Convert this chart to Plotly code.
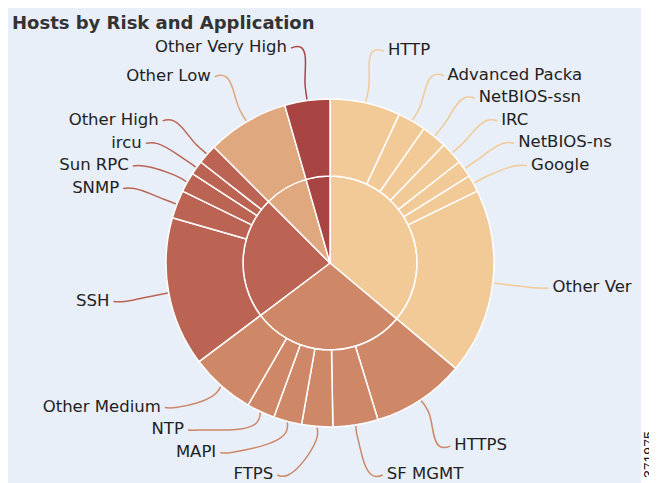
import math
import plotly.graph_objects as go

# --- data (host counts per application) ---
risk_levels = ["Very Low", "Medium", "High", "Low", "Very High"]
risk_colors = ["#f2ca98", "#ce8868", "#bb6453", "#dfa87e", "#a84442"]

app_names = ["HTTP", "Advanced Packa", "NetBIOS-ssn", "IRC", "NetBIOS-ns", "Google", "Other Ver",
             "HTTPS", "SF MGMT", "FTPS", "MAPI", "NTP", "Other Medium",
             "SSH", "SNMP", "Sun RPC", "ircu", "Other High",
             "Other Low",
             "Other Very High"]
app_risk = ["Very Low"] * 7 + ["Medium"] * 6 + ["High"] * 5 + ["Low"] + ["Very High"]
app_hosts = [25, 10, 9, 8, 6, 6, 66,
             33, 16, 11, 10, 10, 23,
             53, 10, 7, 5, 7,
             29,
             16]

risk_hosts = [sum(v for v, r in zip(app_hosts, app_risk) if r == lvl) for lvl in risk_levels]
color_of = dict(zip(risk_levels, risk_colors))
app_colors = [color_of[r] for r in app_risk]

# --- geometry (page pixels; the page body has an 8px margin) ---
PAGE_W, PAGE_H, OFF = 657, 483, 8
W, H = PAGE_W - OFF, PAGE_H - OFF
CX, CY, R, R_IN = 330, 263, 164, 87
LABEL_R, LABEL_XR, TEXT_PAD = 222, 218, 6
GAP, TOP, BOTTOM = 22.5, 48, 475


def domain(r):
    return dict(x=[(CX - OFF - r) / W, (CX - OFF + r) / W],
                y=[(PAGE_H - CY - r) / H, (PAGE_H - CY + r) / H])


total = sum(app_hosts)
mids = []
acc = 0
for v in app_hosts:
    mids.append((acc + v / 2) / total * 2 * math.pi)
    acc += v

natural = [CY - LABEL_R * math.cos(a) + (5 if math.cos(a) > 0 else -2) for a in mids]


def spread(idx):
    idx = sorted(idx, key=lambda i: natural[i])
    ys = [natural[i] for i in idx]
    for k in range(len(ys)):
        lo = TOP if k == 0 else ys[k - 1] + GAP
        ys[k] = max(ys[k], lo)
    for k in range(len(ys) - 1, -1, -1):
        hi = BOTTOM if k == len(ys) - 1 else ys[k + 1] - GAP
        ys[k] = min(ys[k], hi)
    return dict(zip(idx, ys))


right = [i for i, a in enumerate(mids) if a < math.pi]
left = [i for i, a in enumerate(mids) if a >= math.pi]
label_y = {**spread(right), **spread(left)}

fig = go.Figure()

# connectors + labels
for idx, sign, pos in [(right, 1, "middle right"), (left, -1, "middle left")]:
    xs, ys, texts = [], [], []
    for i in idx:
        a = mids[i]
        ly = label_y[i]
        lx = CX + sign * (math.sqrt(max(LABEL_XR ** 2 - (ly - CY) ** 2, 0)) + TEXT_PAD)
        px = [CX + (R + 1) * math.sin(a), CX + (R + 14) * math.sin(a), lx - sign * 15, lx - sign * 4]
        py = [CY - (R + 1) * math.cos(a), CY - (R + 14) * math.cos(a), ly, ly]
        fig.add_trace(go.Scatter(x=px, y=py, mode="lines",
                                 line=dict(color=app_colors[i], width=1.5, shape="spline", smoothing=1.3),
                                 hoverinfo="skip", showlegend=False))
        xs.append(lx)
        ys.append(ly)
        texts.append(app_names[i])
    fig.add_trace(go.Scatter(x=xs, y=ys, text=texts, mode="text", textposition=pos, cliponaxis=False,
                             textfont=dict(family="DejaVu Sans", size=16.5, color="#222222"),
                             hoverinfo="skip", showlegend=False))

fig.add_trace(go.Pie(labels=risk_levels, values=risk_hosts, sort=False, direction="clockwise", rotation=0,
                     marker=dict(colors=risk_colors, line=dict(color="white", width=1.5)),
                     textinfo="none", domain=domain(R_IN), showlegend=False))
fig.add_trace(go.Pie(labels=app_names, values=app_hosts, sort=False, direction="clockwise", rotation=0,
                     hole=R_IN / R, marker=dict(colors=app_colors, line=dict(color="white", width=1.5)),
                     textinfo="none", domain=domain(R), showlegend=False))

fig.add_shape(type="rect", xref="x", yref="y", x0=OFF, x1=641, y0=OFF - 1, y1=PAGE_H, fillcolor="#e8eff9",
              line=dict(width=0), layer="below")

fig.add_annotation(x=10, y=22, xref="x", yref="y", xanchor="left", yanchor="middle", showarrow=False,
                   text="<b>Hosts by Risk and Application</b>",
                   font=dict(family="DejaVu Sans", size=18, color="#333333"))
fig.add_annotation(x=649, y=455, xref="x", yref="y", showarrow=False, textangle=-90, text="371975",
                   font=dict(family="Liberation Sans", size=14, color="#111111"))

fig.update_layout(
    width=W, height=H, margin=dict(l=0, r=0, t=0, b=0),
    paper_bgcolor="white", plot_bgcolor="rgba(0,0,0,0)",
    xaxis=dict(range=[OFF, PAGE_W], visible=False, fixedrange=True),
    yaxis=dict(range=[PAGE_H, OFF], visible=False, fixedrange=True),
)

fig.write_html("out.html")
